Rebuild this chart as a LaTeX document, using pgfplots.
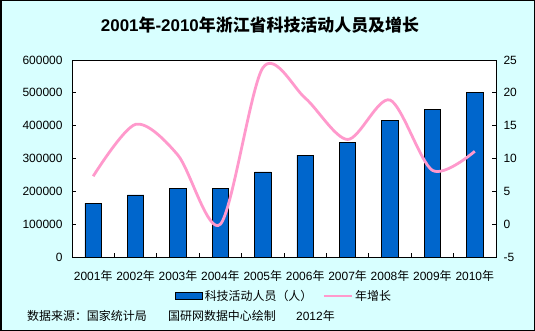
\documentclass[border=0pt]{standalone}
\usepackage{pgfplots}
\pgfplotsset{compat=1.18}
\usepackage{fontspec}
\setmainfont{Liberation Sans}
\newfontfamily\cjk{Noto Sans CJK SC}
\definecolor{bgcyan}{RGB}{216,255,255}
\definecolor{barblue}{RGB}{0,102,204}
\definecolor{linepink}{RGB}{255,153,204}
\newcommand{\nian}{{\cjk 年}}
\pgfplotsset{
  barlegend/.style={legend image code/.code={\draw[##1] (0bp,-3.5bp) rectangle (27bp,3.5bp);}},
  linelegend/.style={legend image code/.code={\draw[##1] (0bp,0bp) -- (28bp,0bp);}},
}
\begin{document}
\begin{tikzpicture}
\useasboundingbox (0,0) rectangle (535bp,331bp);
\fill[bgcyan] (0,0) rectangle (535bp,331bp);
\draw[black, line width=1.5bp] (0.75bp,0.75bp) rectangle (534.25bp,330.25bp);
\node[font=\fontsize{17}{20}\selectfont\bfseries] at (260bp,305.5bp) {2001\nian-2010{\cjk 年浙江省科技活动人员及增长}};
\begin{axis}[
  at={(72bp,74bp)}, anchor=south west,
  scale only axis, width=424bp, height=197bp,
  xmin=-0.5, xmax=9.5, ymin=0, ymax=600000,
  axis background/.style={fill=white},
  axis line style={black, line width=0.9bp},
  xtick={0,...,9},
  xticklabels={2001\nian,2002\nian,2003\nian,2004\nian,2005\nian,2006\nian,2007\nian,2008\nian,2009\nian,2010\nian},
  minor xtick={0.5,1.5,...,8.5},
  major x tick style={draw=none},
  minor tick length=4bp, major tick length=4bp,
  tick align=inside,
  xtick pos=bottom, ytick pos=left,
  ytick={0,100000,...,600000},
  scaled y ticks=false,
  yticklabel style={/pgf/number format/fixed, /pgf/number format/1000 sep={}},
  /pgf/number format/assume math mode=true,
  tick style={black, line width=0.8bp},
  ticklabel style={font=\fontsize{12}{14}\selectfont},
  xticklabel style={yshift=-10bp},
  yticklabel style={xshift=-6bp},
]
\addplot[ybar, bar width=16.5bp, fill=barblue, draw=black, line width=0.8bp] coordinates {
(0,164000) (1,189000) (2,210000) (3,210000) (4,259000) (5,310000) (6,350000) (7,416000) (8,450000) (9,500000)};
\end{axis}
\begin{axis}[
  at={(72bp,74bp)}, anchor=south west,
  scale only axis, width=424bp, height=197bp,
  xmin=-0.5, xmax=9.5, ymin=-5, ymax=25,
  axis x line=none, axis y line*=right,
  axis line style={black, line width=0.9bp},
  ytick={-5,0,...,25},
  tick align=inside, major tick length=4bp,
  tick style={black, line width=0.8bp},
  /pgf/number format/assume math mode=true,
  ticklabel style={font=\fontsize{12}{14}\selectfont},
  yticklabel style={xshift=4bp},
  legend columns=2,
  legend style={at={(axis description cs:0.5,-0.198)}, anchor=center, draw=none, fill=none,
    font=\fontsize{12}{14}\selectfont, /tikz/every even column/.append style={column sep=8bp}},
]
\addlegendimage{fill=barblue, draw=black, line width=0.8bp, barlegend}
\addlegendentry{{\cjk 科技活动人员（人）}}
\addplot[smooth, tension=0.5, color=linepink, line width=2.8bp, mark=none, linelegend] coordinates {
(0,7.3) (1,15.2) (2,10.5) (3,0.0) (4,23.8) (5,19.2) (6,12.9) (7,18.9) (8,8.2) (9,11.1)};
\addlegendentry{{\cjk 年增长}}
\end{axis}
\node[anchor=west, inner sep=0, font=\fontsize{12}{14}\selectfont] at (27bp,15bp) {{\cjk 数据来源：国家统计局}};
\node[anchor=west, inner sep=0, font=\fontsize{12}{14}\selectfont] at (168bp,15bp) {{\cjk 国研网数据中心绘制}};
\node[anchor=west, inner sep=0, font=\fontsize{12}{14}\selectfont] at (296bp,15bp) {2012\nian};
\end{tikzpicture}
\end{document}
